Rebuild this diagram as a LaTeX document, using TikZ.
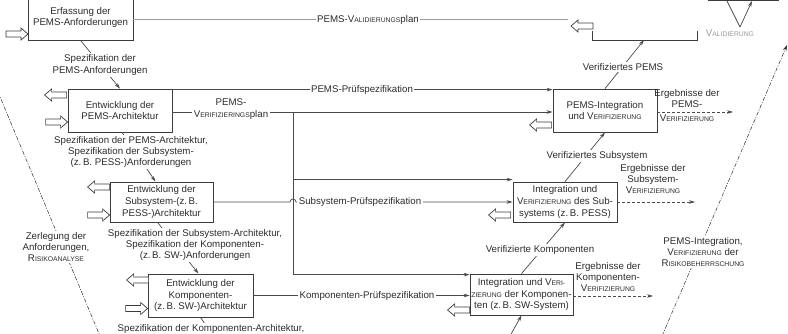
\documentclass[tikz,border=0pt]{standalone}
\usepackage{fontspec}
\setmainfont{Liberation Sans}
\usetikzlibrary{arrows.meta,calc}
\definecolor{ink}{HTML}{2C2C2C}
\definecolor{frame}{HTML}{3C3C3C}
\definecolor{wire}{HTML}{4A4A4A}
\definecolor{faint}{HTML}{9A9A9A}
% small caps imitation: capital at full size, rest in reduced capitals
\newcommand\ksc[2]{#1{\fontsize{6.8pt}{8pt}\selectfont #2}}
\tikzset{
  base/.style={font=\fontsize{9.7pt}{11.3pt}\selectfont, text=ink},
  box/.style={base, font=\fontsize{9.7pt}{11.8pt}\selectfont, draw=frame, line width=0.8pt, fill=white, align=center, inner sep=0.5pt},
  lbl/.style={base, align=center, fill=white, inner sep=1.5pt},
  free/.style={base, align=center, inner sep=0pt},
  wire/.style={draw=wire, line width=0.7pt},
  flow/.style={wire, -{Stealth[length=6pt,width=3.6pt]}},
  result/.style={wire, dash pattern=on 3pt off 2pt, -{Stealth[length=6pt,width=3.6pt]}},
  phase/.style={draw=ink, line width=0.5pt, dash pattern=on 4pt off 1.5pt on 1pt off 1.5pt},
  hollowL/.pic={\draw[draw=frame, line width=0.7pt, fill=white]
     (0,0) -- (7,-6) -- (7,-3) -- (22,-3) -- (22,3) -- (7,3) -- (7,6) -- cycle;},
  hollowR/.pic={\draw[draw=frame, line width=0.7pt, fill=white]
     (0,0) -- (-7,-6) -- (-7,-3) -- (-22,-3) -- (-22,3) -- (-7,3) -- (-7,6) -- cycle;},
}
\begin{document}
\begin{tikzpicture}[x=1pt,y=-1pt]
\useasboundingbox (0,0) rectangle (788,333);
\fill[white] (0,0) rectangle (788,333);

% ---- phase lines of the V ----
\coordinate (dTop) at (-2,92);
\coordinate (dBot) at (100,336);
\draw[phase] (dTop) -- (dBot);
\node[lbl] (decomp) at (56,247) {Zerlegung der\\Anforderungen,\\\ksc{R}{ISIKOANALYSE}};

\coordinate (iBot) at (662,336);
\coordinate (iTop) at (787,45);
\draw[phase, -{Stealth[length=6pt,width=3.6pt]}] (iBot) -- (iTop);
\node[lbl] (integ) at (703,252) {PEMS-Integration,\\\ksc{V}{ERIFIZIERUNG} der\\\ksc{R}{ISIKOBEHERRSCHUNG}};

% ---- boxes, left leg ----
\node[box, minimum width=105pt, minimum height=45pt] (req) at (80.5,17.5) {Erfassung der\\PEMS-Anforderungen};
\node[box, minimum width=104pt, minimum height=43pt] (arch) at (120,110.5) {Entwicklung der\\PEMS-Architektur};
\node[box, minimum width=103pt, minimum height=40pt] (sarch) at (161.5,202) {Entwicklung der\\Subsystem-(z.\,B.\\PESS-)Architektur};
\node[box, minimum width=105pt, minimum height=43pt] (carch) at (200.5,295.5) {Entwicklung der\\Komponenten-\\(z.\,B. SW-)Architektur};

% ---- boxes, right leg ----
\node[box, minimum width=104pt, minimum height=43pt] (pint) at (605,110.5) {PEMS-Integration\\und \ksc{V}{ERIFIZIERUNG}};
\node[box, minimum width=104pt, minimum height=40pt] (sint) at (565,202) {Integration und\\\ksc{V}{ERIFIZIERUNG} des Sub-\\systems (z.\,B. PESS)};
\node[box, minimum width=103pt, minimum height=41pt] (cint) at (521.5,294.5) {Integration und \ksc{V}{ERI-}\\\ksc{}{ZIERUNG} der Komponen-\\ten (z.\,B. SW-System)};

% ---- validation boxes at the top ----
\coordinate (valBL) at (592,31);
\coordinate (valB) at (644,40);
\draw[draw=frame, line width=0.8pt] (valBL) -- (592,40) -- (697,40) -- (697,31);
\node[draw=frame, line width=1pt, fill=white, minimum width=70pt, minimum height=30pt] (top) at (743,-14.5) {};
\coordinate (vApex) at (740,27);
\draw[wire] ([xshift=-16pt]top.south) -- (vApex);
\draw[flow] (vApex) -- ([xshift=9pt]top.south);
\node[free, text=faint] (valtxt) at (730,33) {\ksc{V}{ALIDIERUNG}};

% ---- plans and test specifications ----
\coordinate (valEnd) at (568,19);
\draw[draw=faint, line width=0.8pt] ([yshift=-1.5pt]req.east) -- (valEnd);
\node[lbl] (valplan) at (368,19.5) {PEMS-\ksc{V}{ALIDIERUNGS}plan};

\draw[flow] ([yshift=-1pt]arch.north east) -- ([yshift=-1pt]pint.north west);
\node[lbl] (ptest) at (362,90) {PEMS-Prüfspezifikation};

\coordinate (split) at (293,112);
\draw[flow] ([yshift=-1.5pt]arch.east) -- ([yshift=-1.5pt]pint.east -| pint.west);
\draw[flow] (split) |- ([yshift=-1pt]cint.north west);
\draw[flow] (split |- sint.north west) ++(0,-2) -- ([yshift=2pt]sint.north west);
\node[lbl] (vplan) at (231,109) {PEMS-\\\ksc{V}{ERIFIZIERINGS}plan};

\draw[flow] (sarch.east) -- (290,202) arc (180:360:3) -- (sint.west);
\node[lbl] (stest) at (360,202) {Subsystem-Prüfspezifikation};

\draw[flow] (carch.east) -- (carch.east -| cint.west);
\node[lbl] (ctest) at (367,295.5) {Komponenten-Prüfspezifikation};

% ---- decomposition arrows (left leg) ----
\draw[flow] (req.south) -- (arch.north);
\node[lbl] (s1) at (100,65) {Spezifikation der\\PEMS-Anforderungen};
\draw[flow] ([xshift=2pt]arch.south) -- ([xshift=-6pt]sarch.north);
\node[lbl] (s2) at (131,152) {Spezifikation der PEMS-Architektur,\\Spezifikation der Subsystem-\\(z.\,B. PESS-)Anforderungen};
\coordinate (sarchOut) at ([xshift=-4pt]sarch.south);
\draw[flow] (sarchOut) -- ([xshift=-2pt]carch.north);
\node[lbl] (s3) at (195,245) {Spezifikation der Subsystem-Architektur,\\Spezifikation der Komponenten-\\(z.\,B. SW-)Anforderungen};
\coordinate (cspecEnd) at (216,340);
\draw[wire] (carch.south) -- (cspecEnd);
\node[lbl, anchor=north] (s4) at (211,322.5) {Spezifikation der Komponenten-Architektur,};

% ---- integration arrows (right leg) ----
\coordinate (unitIn) at (510,336);
\draw[flow] (unitIn) -- (cint.south);
\draw[flow] (cint.north) -- (sint.south);
\node[lbl] (v1) at (540,250) {Verifizierte Komponenten};
\draw[flow] (sint.north) -- (pint.south);
\node[lbl] (v2) at (597,156) {Verifiziertes Subsystem};
\draw[flow] (pint.north) -- (valB);
\node[lbl] (v3) at (623,67) {Verifiziertes PEMS};

% ---- verification results ----
\coordinate (r1) at (733,112);
\draw[result] ([yshift=-1.5pt]pint.east) -- (r1);
\node[free] (r1t) at (687,105.5) {Ergebnisse der\\PEMS-\\[2.5pt]\ksc{V}{ERIFIZIERUNG}};
\coordinate (r2) at (695,202);
\draw[result] (sint.east) -- (r2);
\node[free] (r2t) at (653,179) {Ergebnisse der\\Subsystem-\\\ksc{V}{ERIFIZIERUNG}};
\coordinate (r3) at (653,296);
\draw[result] ([yshift=-1.5pt]cint.east) -- (r3);
\node[free] (r3t) at (608,277) {Ergebnisse der\\Komponenten-\\\ksc{V}{ERIFIZIERUNG}};

% ---- hollow input/output arrows ----
\pic at ([xshift=-52.5pt,yshift=-16.5pt]req.center) {hollowR};
\pic at ([shift={(-23,-15.5)}]arch.west) {hollowL};
\pic at ([shift={(0,11.5)}]arch.west) {hollowR};
\pic at ([shift={(-22,-15)}]sarch.west) {hollowL};
\pic at ([shift={(0,13)}]sarch.west) {hollowR};
\pic at ([shift={(-21,-15.5)}]carch.west) {hollowL};
\pic at ([shift={(0,13)}]carch.west) {hollowR};
\pic at ([shift={(-23,14.5)}]pint.west) {hollowL};
\pic at ([shift={(-24,13)}]sint.west) {hollowL};
\pic at ([shift={(-22,15.5)}]cint.west) {hollowL};
\pic at ([shift={(-21,-5)}]valBL) {hollowL};
\end{tikzpicture}
\end{document}
